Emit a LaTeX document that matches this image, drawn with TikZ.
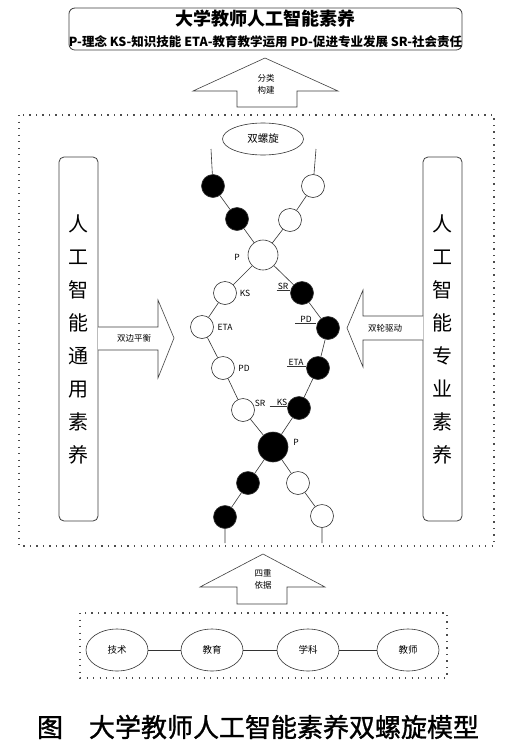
\documentclass[tikz,border=0pt]{standalone}
\usepackage{fontspec}
\setmainfont{Noto Sans CJK SC}
\newfontfamily\capfont{Noto Sans CJK SC}[FakeBold=1.2]
\usetikzlibrary{shapes.geometric, positioning}

\tikzset{
  line/.style={draw=black!80, line width=0.6pt},
  bead/.style={circle, draw=black!80, line width=0.6pt, minimum size=23pt, inner sep=0pt},
  dark/.style={bead, fill=black},
  lite/.style={bead, fill=white},
  hub/.style={minimum size=30pt},
  tag/.style={font=\fontsize{8.5}{10}\selectfont, inner sep=1pt},
  dotbox/.style={draw=black!70, dash pattern=on 1.3pt off 5.2pt, line width=1.3pt},
  pillar/.style={draw=black!75, line width=0.8pt, rounded corners=5pt,
    minimum width=39pt, minimum height=364pt, align=center,
    font=\fontsize{20}{33}\selectfont},
  blockarrow/.style={draw=black!75, line width=0.6pt, fill=white},
  base/.style={ellipse, draw=black!80, line width=0.6pt, minimum width=62pt,
    minimum height=42pt, font=\fontsize{9.5}{11}\selectfont},
}

\begin{document}
\begin{tikzpicture}[x=1pt, y=-1pt]
    \useasboundingbox[fill=white] (0,0) rectangle (515,755);
    % title box
    \node[draw=black!75, line width=0.8pt, rounded corners=6pt, minimum width=389pt,
      minimum height=42pt, align=center, inner sep=0pt,
      font=\bfseries\fontsize{12.5}{21}\selectfont] (head) at (265.5,29)
      {{\fontsize{18}{22}\selectfont 大学教师人工智能素养}\\
       P-理念 KS-知识技能 ETA-教育教学运用 PD-促进专业发展 SR-社会责任};
    % arrow up to the title
    \draw[blockarrow] (237,107) -- (237,91) -- (193,91) -- (265,58) -- (338,91)
      -- (297,91) -- (297,107) -- cycle;
    \node[tag, align=center, font=\fontsize{8.5}{12}\selectfont] (build) at (266,84) {分类\\构建};
    % outer frames
    \draw[dotbox] (19,115) rectangle (494,546);
    \draw[dotbox] (80,613) rectangle (447,678);
    % two side pillars
    \node[pillar] (gen) at (78.5,339) {人\\工\\智\\能\\通\\用\\素\\养};
    \node[pillar] (pro) at (442.5,339) {人\\工\\智\\能\\专\\业\\素\\养};
    \draw[blockarrow] (98,327) -- (158,327) -- (158,300) -- (174,338) -- (158,378)
      -- (158,350) -- (98,350);
    \node[tag] (bal) at (134,338) {双边平衡};
    \draw[blockarrow] (423,316) -- (363,316) -- (363,290) -- (347,328) -- (363,367)
      -- (363,340) -- (423,340);
    \node[tag] (drive) at (385,328) {双轮驱动};
    % double helix
    \node[ellipse, draw=black!80, line width=0.6pt, minimum width=81pt, minimum height=32pt,
      font=\fontsize{10.5}{12}\selectfont] (helix) at (263,139) {双螺旋};
    \coordinate (tl) at (211,149);
    \coordinate (tr) at (316,149);
    \coordinate (bl) at (225,543);
    \coordinate (br) at (322,543);
    \node[dark] (b1) at (213,186) {};
    \node[dark] (b2) at (237,219) {};
    \node[lite] (w1) at (313,186) {};
    \node[lite] (w2) at (290,220) {};
    \node[lite, hub] (pw) at (263,255) {};
    \node[lite] (ks1) at (225,293) {};
    \node[lite] (eta1) at (202,327) {};
    \node[lite] (pd1) at (223,368) {};
    \node[lite] (sr1) at (243,410) {};
    \node[dark] (sr2) at (302,293) {};
    \node[dark] (pd2) at (328,328) {};
    \node[dark] (eta2) at (318,368) {};
    \node[dark] (ks2) at (299,408) {};
    \node[dark, hub] (pb) at (273,447) {};
    \node[dark] (b3) at (248,483) {};
    \node[dark] (b4) at (225,517) {};
    \node[lite] (w3) at (298,483) {};
    \node[lite] (w4) at (322,516) {};
    \draw[line] (tl) -- (b1) -- (b2) -- (pw) -- (ks1) -- (eta1) -- (pd1) -- (sr1)
      -- (pb) -- (b3) -- (b4) -- (bl);
    \draw[line] (tr) -- (w1) -- (w2) -- (pw) -- (sr2) -- (pd2) -- (eta2) -- (ks2)
      -- (pb) -- (w3) -- (w4) -- (br);
    % strand labels
    \node[tag] (lpw) at (237,257) {P};
    \node[tag] (lks1) at (245,293) {KS};
    \node[tag] (leta1) at (225,327) {ETA};
    \node[tag] (lpd1) at (244,368) {PD};
    \node[tag] (lsr1) at (260,403) {SR};
    \node[tag] (lpb) at (296,442) {P};
    \node[tag] (lsr2) at (283,286) {SR};
    \node[tag] (lpd2) at (306,319) {PD};
    \node[tag] (leta2) at (296,362) {ETA};
    \node[tag] (lks2) at (282,402) {KS};
    \draw[line] (lsr2.south west) -- (lsr2.south west -| sr2.west);
    \draw[line] ([xshift=-4pt]lpd2.south west) -- (lpd2.south west -| pd2.west);
    \draw[line] (leta2.south west) -- (leta2.south west -| eta2.west);
    \draw[line] ([xshift=-6pt]lks2.south west) -- (lks2.south west -| ks2.west);
    % arrow up from the four bases
    \draw[blockarrow] (237,604) -- (237,587) -- (200,587) -- (263,554) -- (325,587)
      -- (287,587) -- (287,604) -- cycle;
    \node[tag, align=center, font=\fontsize{8.5}{12}\selectfont] (basis) at (263,579) {四重\\依据};
    \node[base] (tech) at (117,650) {技术};
    \node[base] (edu) at (212,650) {教育};
    \node[base] (subj) at (308,650) {学科};
    \node[base] (teach) at (408,650) {教师};
    \draw[line] (tech) -- (edu) -- (subj) -- (teach);
    % caption
    \node[font=\capfont\fontsize{26}{30}\selectfont, inner sep=0pt] (cap) at (258,727)
      {图\quad 大学教师人工智能素养双螺旋模型};
\end{tikzpicture}
\end{document}
